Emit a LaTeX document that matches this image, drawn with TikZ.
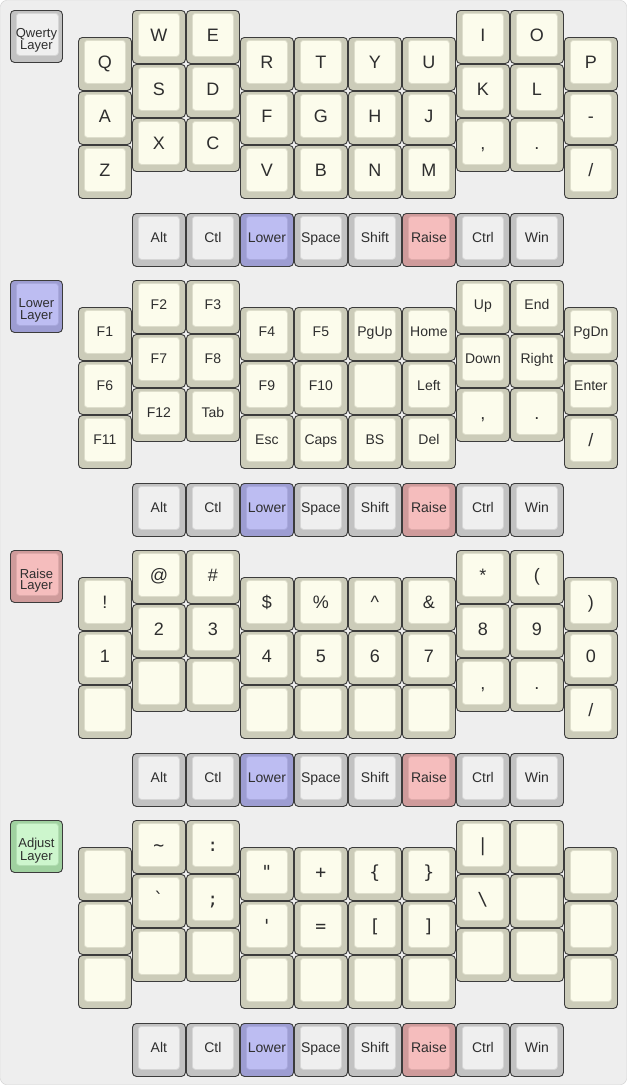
\documentclass[tikz,border=0pt]{standalone}
\usepackage{fontspec}
\setmainfont{Liberation Sans}
\newfontfamily\symfont{DejaVu Sans Mono}
\usetikzlibrary{positioning}

\definecolor{backdrop}{HTML}{EEEEEE}
\definecolor{frame}{HTML}{CCCCCC}
\definecolor{keyedge}{HTML}{3C3C3C}
\definecolor{keytext}{HTML}{2E2E2E}
\definecolor{alphaout}{HTML}{CCCCB9}
\definecolor{alphain}{HTML}{FCFCEC}
\definecolor{alphaline}{HTML}{DEDECC}
\definecolor{grayout}{HTML}{C2C2C2}
\definecolor{grayin}{HTML}{EFEFEF}
\definecolor{grayline}{HTML}{D6D6D6}
\definecolor{lowerout}{HTML}{9D9DD2}
\definecolor{lowerin}{HTML}{BDBDF2}
\definecolor{lowerline}{HTML}{A9A9DD}
\definecolor{raiseout}{HTML}{CF9B9B}
\definecolor{raisein}{HTML}{F5BDBD}
\definecolor{raiseline}{HTML}{DEAAAA}
\definecolor{adjustout}{HTML}{A0D1A0}
\definecolor{adjustin}{HTML}{CDF6CD}
\definecolor{adjustline}{HTML}{B2DEB2}

\begin{document}
\begin{tikzpicture}[
    x=1pt, y=-1pt,
    keybase/.style={rectangle, rounded corners=4pt, draw=keyedge, line width=0.9pt, fill=#1out,
        minimum width=53pt, minimum height=53pt, inner sep=0pt, anchor=north west},
    keyface/.style={rectangle, rounded corners=3pt, draw=#1line, line width=0.8pt, fill=#1in,
        minimum width=41pt, minimum height=43pt, inner sep=0pt, text=keytext},
    charlabel/.style={font=\fontsize{18}{18}\selectfont, text height=13pt, text depth=0pt},
    wordlabel/.style={font=\fontsize{14}{14}\selectfont, text height=10pt, text depth=0pt},
    symlabel/.style={font=\symfont\fontsize{18}{18}\selectfont, text height=13pt, text depth=0pt},
    layertext/.style={font=\fontsize{13}{11.5}\selectfont, align=center, inner sep=0pt, text=keytext}
]

    \useasboundingbox (0,0) rectangle (627,1085);
    \draw[draw=frame, fill=backdrop, rounded corners=6pt] (0.5,0.5) rectangle (626.5,1084.5);

    % layer name keys
    \foreach \n/\L/\k/\name in {q/10/gray/Qwerty, l/280/lower/Lower, r/550/raise/Raise, a/820/adjust/Adjust}{
        \node[keybase=\k, minimum size=52pt] (\n-layer) at (10,\L) {};
        \node[keyface=\k, minimum size=42pt, below right=3pt and 6pt of \n-layer.north west] (\n-layer-f) {};
        \node[layertext] (\n-layer-t) at ([yshift=-4pt]\n-layer.center) {\name\\Layer};
    }

    % main block, one row of ten columns at a time
    \foreach \n/\L/\r/\f/\s/\labels in {
        q/10/0/charlabel/0/{Q,W,E,R,T,Y,U,I,O,P},
        q/10/1/charlabel/0/{A,S,D,F,G,H,J,K,L,-},
        q/10/2/charlabel/0/{Z,X,C,V,B,N,M,{,},.,/},
        l/280/0/wordlabel/0/{F1,F2,F3,F4,F5,PgUp,Home,Up,End,PgDn},
        l/280/1/wordlabel/0/{F6,F7,F8,F9,F10,{},Left,Down,Right,Enter},
        l/280/2/wordlabel/0/{F11,F12,Tab,Esc,Caps,BS,Del},
        l/280/2/charlabel/7/{{,},.,/},
        r/550/0/charlabel/0/{!,@,\#,\$,\%,\textasciicircum,\&,*,{(},{)}},
        r/550/1/charlabel/0/{1,2,3,4,5,6,7,8,9,0},
        r/550/2/charlabel/0/{{},{},{},{},{},{},{},{,},.,/},
        a/820/0/symlabel/0/{{},\textasciitilde,:,\textquotedbl,+,\{,\},\textbar,{},{}},
        a/820/1/symlabel/0/{{},\textasciigrave,;,\textquotesingle,=,[,],\textbackslash,{},{}},
        a/820/2/symlabel/0/{{},{},{},{},{},{},{},{},{},{}}}{
        \foreach \lbl [count=\c from \s] in \labels {
            \pgfmathtruncatemacro{\dy}{ifthenelse(\c==1 || \c==2 || \c==7 || \c==8, 0, 27)}
            \node[keybase=alpha] (\n\r\c) at ({78+54*\c}, {\L+54*\r+\dy}) {};
            \node[keyface=alpha, \f, below right=3pt and 6pt of \n\r\c.north west] (\n\r\c-f) {\lbl};
        }
    }

    % thumb rows
    \foreach \n/\L in {q/10, l/280, r/550, a/820}{
        \foreach \lbl/\k [count=\c from 1] in {Alt/gray, Ctl/gray, Lower/lower, Space/gray,
                                              Shift/gray, Raise/raise, Ctrl/gray, Win/gray}{
            \node[keybase=\k] (\n-th\c) at ({78+54*\c}, {\L+203}) {};
            \node[keyface=\k, wordlabel, below right=3pt and 6pt of \n-th\c.north west] (\n-th\c-f) {\lbl};
        }
    }

\end{tikzpicture}
\end{document}
